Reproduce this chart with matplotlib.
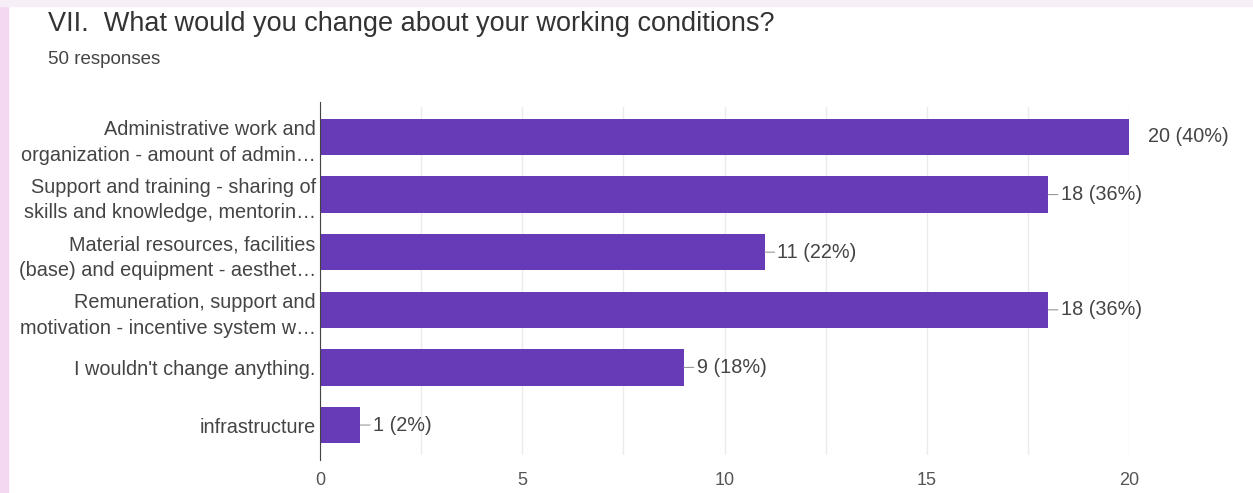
import matplotlib
matplotlib.use("Agg")
import matplotlib.pyplot as plt
from matplotlib.patches import Rectangle

categories = [
    "Administrative work and\norganization - amount of admin…",
    "Support and training - sharing of\nskills and knowledge, mentorin…",
    "Material resources, facilities\n(base) and equipment - aesthet…",
    "Remuneration, support and\nmotivation - incentive system w…",
    "I wouldn't change anything.",
    "infrastructure",
]
counts = [20, 18, 11, 18, 9, 1]
percents = [40, 36, 22, 36, 18, 2]
xticks = [0, 5, 10, 15, 20]

plt.rcParams["font.family"] = ["Liberation Sans", "DejaVu Sans"]
PURPLE = "#673ab7"
TXT = "#444444"
FS = 14.3

fig = plt.figure(figsize=(12.53, 4.93), dpi=100)
# pink frame at left and top
fig.patches.append(Rectangle((0, 0), 8 / 1253, 1, transform=fig.transFigure,
                             color="#f4d8f2", zorder=0))
fig.patches.append(Rectangle((0, 1 - 6 / 493), 1, 6 / 493, transform=fig.transFigure,
                             color="#f8eef8", zorder=0))

ax = fig.add_axes([320 / 1253, 1 - 455 / 493, (1129 - 320) / 1253, 348 / 493])
y = list(range(len(categories)))
ax.barh(y, counts, height=0.63, color=PURPLE, zorder=3)
ax.set_xlim(0, 20)
ax.set_ylim(5.52, -0.52)

ax.set_xticks(xticks)
ax.set_xticks([2.5, 7.5, 12.5, 17.5], minor=True)
ax.grid(True, axis="x", which="both", color="#ebebeb", lw=1, zorder=0)
ax.tick_params(axis="x", which="both", length=0, pad=12, labelsize=13, labelcolor="#555555")
ax.tick_params(axis="y", length=0, pad=3, labelsize=FS, labelcolor=TXT)
ax.set_yticks(y)
ax.set_yticklabels(categories, linespacing=1.45)
for s in ["top", "right", "bottom"]:
    ax.spines[s].set_visible(False)
ax.spines["left"].set_color("#444444")
ax.spines["left"].set_bounds(5.6, -0.6)
ax.spines["left"].set_zorder(4)

for yi, c, p in zip(y, counts, percents):
    label = f"{c} ({p}%)"
    if c == max(counts):
        ax.annotate(label, (c, yi), xytext=(13.5, 0), textcoords="offset points",
                    va="center", ha="left", fontsize=FS, color=TXT,
                    annotation_clip=False)
    else:
        ax.annotate(label, (c, yi), xytext=(9, 0), textcoords="offset points",
                    va="center", ha="left", fontsize=FS, color=TXT,
                    arrowprops=dict(arrowstyle="-", color="#999999", lw=0.8,
                                    shrinkA=0, shrinkB=0),
                    annotation_clip=False)

fig.text(48 / 1253, 1 - 24 / 493, "VII.  What would you change about your working conditions?",
         fontsize=19.5, color="#333333", va="center", ha="left")
fig.text(48 / 1253, 1 - 60 / 493, "50 responses", fontsize=13.5, color="#444444",
         va="center", ha="left")

fig.savefig("out.png", dpi=100)
